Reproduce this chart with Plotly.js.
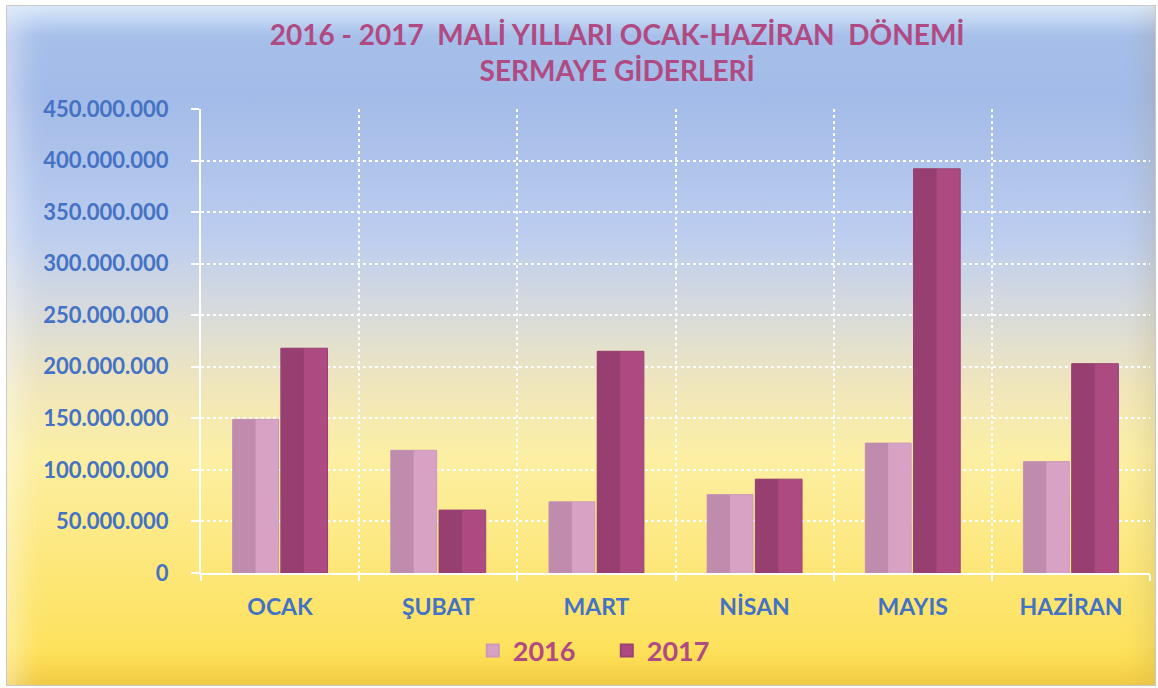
<!DOCTYPE html>
<html>
<head>
<meta charset="utf-8">
<script src="https://cdn.plot.ly/plotly-3.0.1.min.js"></script>
<style>
html,body{margin:0;padding:0;background:#ffffff;}
#frame{position:absolute;left:6px;top:5px;width:1150px;height:681px;box-sizing:border-box;
 border:1px solid #c9c9c9;
 background:linear-gradient(to bottom,#c6dcf6 0px,#a6bfea 30px,#a3bbe8 90px,#bccdef 230px,#d6dade 300px,#f0e6bc 380px,#fcefa4 450px,#fde77a 560px,#fde25e 640px,#fbd240 681px);
 box-shadow:inset 26px 22px 28px -14px rgba(255,255,255,0.45), inset -22px -18px 24px -14px rgba(160,140,90,0.22);}
#chart{position:absolute;left:0;top:0;width:1158px;height:688px;}
</style>
</head>
<body>
<div id="frame"></div>
<div id="chart"></div>
<script>
var categories = ["OCAK", "ŞUBAT", "MART", "NİSAN", "MAYIS", "HAZİRAN"];
var values2016 = [149000000, 119000000, 69000000, 76000000, 126000000, 108000000];
var values2017 = [218000000, 61000000, 215000000, 91000000, 392000000, 203000000];
var tickValues = [0, 50000000, 100000000, 150000000, 200000000, 250000000, 300000000, 350000000, 400000000, 450000000];

var c16 = "#d8a2c4", c16dark = "#c08cad", c16line = "#c99ab8";
var c17 = "#ad4a82", c17dark = "#963f70", c17line = "#9a4274";
var fontFam = "Lato, 'Open Sans', sans-serif";

var traces = [
  {type:"bar", name:"2016", x:categories, y:values2016, offset:-0.3, width:0.29,
   marker:{color:c16, line:{color:c16line, width:1}}, hoverinfo:"y"},
  {type:"bar", name:"2016s", x:categories, y:values2016, offset:-0.3, width:0.145, showlegend:false,
   marker:{color:c16dark, line:{width:0}}, hoverinfo:"skip"},
  {type:"bar", name:"2017", x:categories, y:values2017, offset:0.005, width:0.295,
   marker:{color:c17, line:{color:c17line, width:1}}, hoverinfo:"y"},
  {type:"bar", name:"2017s", x:categories, y:values2017, offset:0.005, width:0.145, showlegend:false,
   marker:{color:c17dark, line:{width:0}}, hoverinfo:"skip"}
];

var layout = {
  width:1158, height:688,
  paper_bgcolor:"rgba(0,0,0,0)", plot_bgcolor:"rgba(0,0,0,0)",
  separators:",.",
  barmode:"overlay",
  margin:{l:201, r:8, t:109, b:115},
  font:{family:fontFam},
  title:{text:"<b>2016 - 2017  MALİ YILLARI OCAK-HAZİRAN  DÖNEMİ<br>SERMAYE GİDERLERİ</b>",
    font:{size:28, color:"#b04a82", family:fontFam},
    xref:"container", x:0.533, xanchor:"center", yref:"container", y:0.935, yanchor:"top"},
  xaxis:{type:"category", tickson:"boundaries", ticks:"outside", ticklen:6, tickcolor:"#ffffff", tickwidth:2,
    showline:true, linecolor:"#ffffff", linewidth:2,
    showgrid:true, gridcolor:"#ffffff", griddash:"dot", gridwidth:2,
    tickfont:{size:23, color:"#4472c4", family:fontFam, weight:"bold"},
    ticklabelstandoff:12, range:[-0.5,5.5], fixedrange:true},
  yaxis:{range:[0,450000000], tickvals:tickValues, tickformat:",d",
    ticks:"outside", ticklen:8, tickcolor:"#ffffff", tickwidth:2,
    showline:true, linecolor:"#ffffff", linewidth:2,
    showgrid:true, gridcolor:"#ffffff", griddash:"dot", gridwidth:2, zeroline:false,
    tickfont:{size:22, color:"#4472c4", family:fontFam, weight:"bold"},
    ticklabelstandoff:18, fixedrange:true},
  showlegend:true,
  legend:{orientation:"h", xref:"container", x:0.524, xanchor:"center", yref:"container", y:0.054, yanchor:"middle",
    font:{size:27, color:"#b04a82", family:fontFam, weight:"bold"},
    entrywidth:89, entrywidthmode:"pixels",
    bgcolor:"rgba(0,0,0,0)", itemsizing:"constant", traceorder:"normal"}
};

Plotly.newPlot("chart", traces, layout, {displayModeBar:false, staticPlot:true});
</script>
</body>
</html>
